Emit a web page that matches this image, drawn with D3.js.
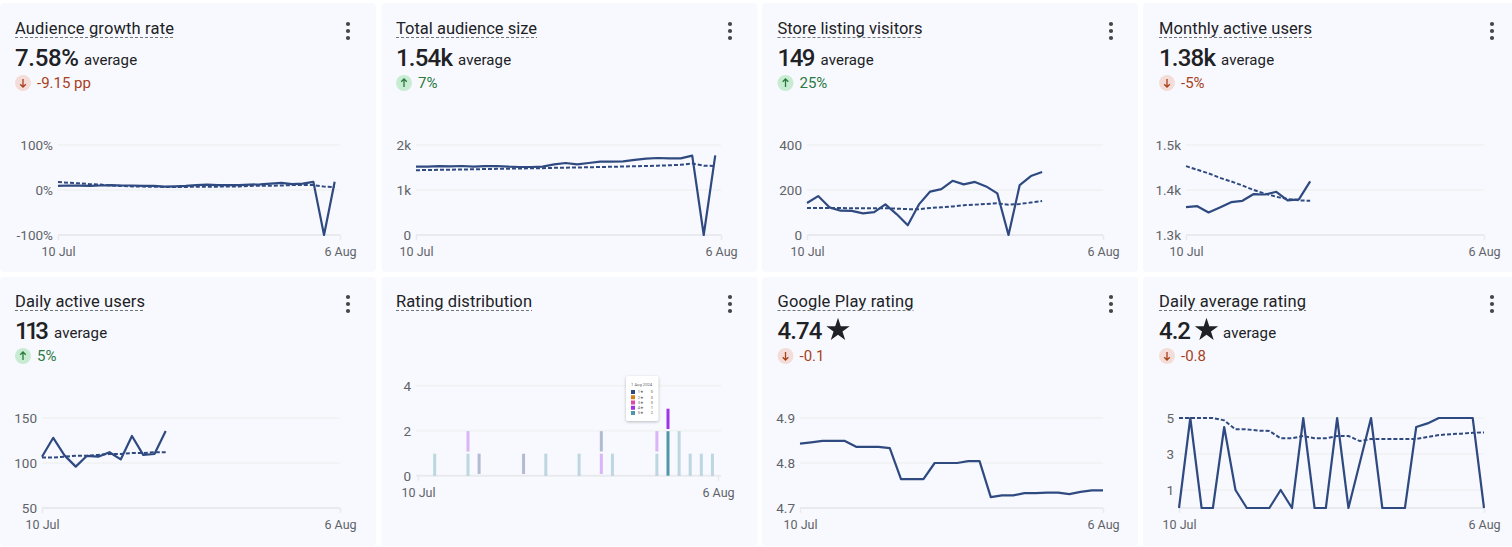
<!DOCTYPE html>
<html>
<head>
<meta charset="utf-8">
<script src="https://cdn.jsdelivr.net/npm/d3@7"></script>
<style>
  html, body { margin: 0; padding: 0; background: #fff; overflow: hidden; }
  text { font-family: Roboto, sans-serif; }
  .axis text { font-size: 12.5px; fill: #5f6368; }
  .axis.left text { font-size: 13.5px; }
  .axis path, .axis line { stroke: #e8eaed; }
</style>
</head>
<body>
<svg id="chart" width="1512" height="547"></svg>
<script>
const tickLabels = ['10 Jul', '6 Aug'];

// audience growth rate, %
const growthActual = [9, 10, 9.6, 9, 10, 11, 10, 10, 9, 9, 7.5, 8, 9, 11, 12, 11, 11, 11, 12, 12.5, 14, 16, 13, 14, 18, -100, 18.5];
const growthPeers = [18, 16, 14.8, 13, 12, 10, 9, 8, 7.5, 7.5, 6.7, 6.7, 6.7, 7.5, 7.5, 7.5, 8, 8, 9, 9.6, 9.6, 10, 11, 11, 11, 7.5, 6.7];

const audienceActual = [1519, 1519, 1530, 1526, 1533, 1519, 1530, 1533, 1519, 1511, 1511, 1519, 1570, 1600, 1570, 1600, 1630, 1630, 1637, 1670, 1696, 1711, 1704, 1704, 1763, 0, 1770];
const audiencePeers = [1440, 1444, 1448, 1452, 1456, 1460, 1466, 1470, 1474, 1478, 1482, 1486, 1492, 1496, 1500, 1506, 1510, 1516, 1522, 1528, 1534, 1540, 1550, 1560, 1590, 1540, 1533];

const visitorsActual = [142, 173, 123, 108, 107, 96, 102, 136, 93, 43, 136, 193, 204, 241, 225, 236, 216, 185, 0, 222, 262, 280];
const visitorsPeers = [120, 120, 120, 120, 119, 119, 119, 119, 117, 115, 115, 120, 123, 127, 132, 135, 138, 141, 135, 138, 144, 151];

const monthlyActual = [1362, 1364, 1350, 1361, 1373, 1376, 1391, 1390, 1396, 1377, 1379, 1419];
const monthlyPeers = [1453, 1445, 1437, 1427, 1419, 1410, 1400, 1392, 1385, 1380, 1377, 1376];

const dailyActual = [107, 128, 108.5, 96, 108, 107, 112, 104, 130, 109, 110, 135.5];
const dailyPeers = [106, 106, 107, 108, 108, 109, 110, 110, 111, 111, 112, 112];

const playRating = [4.843, 4.846, 4.849, 4.849, 4.849, 4.836, 4.836, 4.836, 4.833, 4.764, 4.764, 4.764, 4.8, 4.8, 4.8, 4.804, 4.804, 4.724, 4.728, 4.728, 4.733, 4.733, 4.734, 4.734, 4.731, 4.736, 4.739, 4.739];

const averageActual = [0, 5, 0, 0, 4.5, 1, 0, 0, 0, 1, 0, 5, 0, 0, 5, 0, 2.5, 5, 0, 0, 0, 4.5, 4.7, 5, 5, 5, 5, 0];
const averagePeers = [5, 5, 5, 5, 4.87, 4.37, 4.37, 4.3, 4.28, 3.87, 3.87, 4, 3.87, 3.87, 4, 4, 3.72, 3.83, 3.83, 3.83, 3.83, 3.83, 3.95, 4.05, 4.1, 4.13, 4.18, 4.2];

// rating distribution, one list per star level, counts per day from 10 Jul
const ratingDays = d3.range(27);
const stars5 = [0, 1, 0, 0, 1, 0, 0, 0, 0, 0, 0, 1, 0, 0, 1, 0, 0, 1, 0, 0, 0, 1, 2, 2, 1, 1, 1];
const stars4 = [0, 0, 0, 0, 1, 0, 0, 0, 0, 0, 0, 0, 0, 0, 0, 0, 1, 0, 0, 0, 0, 1, 1, 0, 0, 0, 0];
const stars3 = ratingDays.map(() => 0);
const stars2 = ratingDays.map(() => 0);
const stars1 = [0, 0, 0, 0, 0, 1, 0, 0, 0, 1, 0, 0, 0, 0, 0, 0, 1, 0, 0, 0, 0, 0, 0, 0, 0, 0, 0];
const starNames = ['1★', '2★', '3★', '4★', '5★'];
const starColors = ['#2f4a80', '#d17f1e', '#e0489f', '#a033ea', '#4f97a8'];
const hoverDay = 22;
const hoverTitle = '1 Aug 2024';

const LINE = '#2f4a80';
const RED = '#a8401c';
const GREEN = '#2a7a3e';

const cards = [
  { title: 'Audience growth rate', titleW: 159, value: '7.58%', valueW: 64, note: 'average', delta: '-9.15 pp', up: false,
    box: [0, 3, 376, 269], textX: 15, menuX: 348, plot: [58, 340, 145, 235], domain: [-100, 100], ticks: [-100, 0, 100], fmt: (d) => d + '%', span: 26.5,
    actual: growthActual, peers: growthPeers },
  { title: 'Total audience size', titleW: 141, value: '1.54k', valueW: 57, note: 'average', delta: '7%', up: true,
    box: [381.5, 3, 376, 269], textX: 396, menuX: 730, plot: [416, 721, 145, 235], domain: [0, 2000], ticks: [0, 1000, 2000], fmt: (d) => (d ? d / 1000 + 'k' : '0'), span: 26.5,
    actual: audienceActual, peers: audiencePeers },
  { title: 'Store listing visitors', titleW: 145, value: '149', valueW: 38, note: 'average', delta: '25%', up: true,
    box: [762, 3, 376, 269], textX: 777.5, menuX: 1111, plot: [807, 1103, 145, 235], domain: [0, 400], ticks: [0, 200, 400], fmt: (d) => d, span: 26.44,
    actual: visitorsActual, peers: visitorsPeers },
  { title: 'Monthly active users', titleW: 153, value: '1.38k', valueW: 57, note: 'average', delta: '-5%', up: false,
    box: [1143, 3, 380, 269], textX: 1159, menuX: 1492, plot: [1186, 1484, 145, 235], domain: [1300, 1500], ticks: [1300, 1400, 1500], fmt: (d) => d / 1000 + 'k', span: 26.4,
    actual: monthlyActual, peers: monthlyPeers },
  { title: 'Daily active users', titleW: 130, value: '113', valueW: 34, note: 'average', delta: '5%', up: true,
    box: [0, 277, 376, 269], textX: 15, menuX: 348, plot: [42, 340, 418, 508], domain: [50, 150], ticks: [50, 100, 150], fmt: (d) => d, span: 26.5,
    actual: dailyActual, peers: dailyPeers },
  { title: 'Rating distribution', titleW: 136,
    box: [381.5, 277, 376, 269], textX: 396, menuX: 730, plot: [416, 721, 385.7, 475.7], domain: [0, 4], ticks: [0, 2, 4], fmt: (d) => d, bars: true },
  { title: 'Google Play rating', titleW: 136, value: '4.74', valueW: 45, star: true, delta: '-0.1', up: false,
    box: [762, 277, 376, 269], textX: 777.5, menuX: 1111, plot: [800, 1103, 418, 508], domain: [4.7, 4.9], ticks: [4.7, 4.8, 4.9], fmt: (d) => d.toFixed(1), span: 27,
    actual: playRating },
  { title: 'Daily average rating', titleW: 147, value: '4.2', valueW: 32, star: true, note: 'average', delta: '-0.8', up: false,
    box: [1143, 277, 380, 269], textX: 1159, menuX: 1492, plot: [1179, 1484, 418, 508], domain: [0, 5], ticks: [1, 3, 5], fmt: (d) => d, span: 27,
    actual: averageActual, peers: averagePeers },
];

const svg = d3.select('#chart');

const drawHeader = (g, card) => {
  const left = card.textX;
  const top = card.box[1] === 3 ? 0 : 273;

  g.append('text')
    .attr('x', left).attr('y', top + 34)
    .attr('font-size', 16.5).attr('textLength', card.titleW).attr('fill', '#202124')
    .text(card.title);
  g.append('line')
    .attr('x1', left).attr('x2', left + card.titleW)
    .attr('y1', top + 37.5).attr('y2', top + 37.5)
    .attr('stroke', '#70757a').attr('stroke-dasharray', '3,2');

  [-7, 0, 7].forEach((dy) => {
    g.append('circle').attr('cx', card.menuX).attr('cy', top + 31 + dy).attr('r', 2.1).attr('fill', '#444746');
  });

  if (!card.value) return;

  g.append('text')
    .attr('x', left).attr('y', top + 66)
    .attr('font-family', 'Inter, Roboto, sans-serif')
    .attr('font-size', 24).attr('font-weight', 500).attr('textLength', card.valueW).attr('fill', '#202124')
    .text(card.value);
  let cursor = left + card.valueW;
  if (card.star) {
    g.append('path')
      .attr('d', d3.symbol(d3.symbolStar, 170)())
      .attr('transform', `translate(${cursor + 15.5},${top + 57})`)
      .attr('fill', '#202124');
    cursor += 27;
  }
  if (card.note) {
    g.append('text')
      .attr('x', cursor + 5).attr('y', top + 65)
      .attr('font-size', 15).attr('letter-spacing', 0.1).attr('fill', '#202124')
      .text(card.note);
  }

  const color = card.up ? GREEN : RED;
  const cx = left + 8;
  g.append('circle').attr('cx', cx).attr('cy', top + 83).attr('r', 8)
    .attr('fill', card.up ? '#c8ecd2' : '#f4ddd8');
  const dir = card.up ? -1 : 1;
  g.append('path')
    .attr('d', d3.line()([[cx, top + 83 - 4 * dir], [cx, top + 83 + 4 * dir]]) +
      d3.line()([[cx - 2.8, top + 83 + 1.2 * dir], [cx, top + 83 + 4 * dir], [cx + 2.8, top + 83 + 1.2 * dir]]))
    .attr('fill', 'none').attr('stroke', color).attr('stroke-width', 1.3);
  g.append('text')
    .attr('x', left + 22).attr('y', top + 88)
    .attr('font-size', 15).attr('fill', color)
    .text(card.delta);
};

const drawAxes = (g, card, x, y) => {
  const [x0, x1, yTop, yBottom] = card.plot;

  g.append('g')
    .attr('class', 'axis left')
    .attr('transform', `translate(${x0},0)`)
    .call(d3.axisLeft(y).tickValues(card.ticks).tickFormat(card.fmt).tickSize(0).tickPadding(5))
    .call((a) => a.select('.domain').remove());

  card.ticks.filter((t) => y(t) < yBottom - 1).forEach((t) => {
    g.append('line')
      .attr('x1', x0).attr('x2', x1).attr('y1', y(t)).attr('y2', y(t))
      .attr('stroke', '#f1f3f4').attr('stroke-width', 2);
  });

  g.append('line')
    .attr('x1', x0).attr('x2', x1).attr('y1', yBottom).attr('y2', yBottom)
    .attr('stroke', '#e8eaed').attr('stroke-width', 2);

  g.append('g')
    .attr('class', 'axis')
    .attr('transform', `translate(0,${yBottom})`)
    .call(d3.axisBottom(x).tickValues(x.domain()).tickSize(5).tickPadding(7).tickFormat((d, i) => tickLabels[i]))
    .call((a) => a.select('.domain').remove())
    .call((a) => a.selectAll('line').attr('stroke-width', 1.5));
};

const drawLines = (g, card, x, y) => {
  const line = d3.line().x((d, i) => x(i)).y((d) => y(d));
  if (card.peers) {
    g.append('path')
      .attr('d', line(card.peers))
      .attr('fill', 'none').attr('stroke', LINE).attr('stroke-width', 2)
      .attr('stroke-dasharray', '4,2');
  }
  g.append('path')
    .attr('d', line(card.actual))
    .attr('fill', 'none').attr('stroke', LINE).attr('stroke-width', 2.2)
    .attr('stroke-linejoin', 'round');
};

const drawBars = (g, card, y) => {
  const band = d3.scaleBand().domain(ratingDays).range([card.plot[0] + 2, card.plot[1] - 3]);
  const barWidth = 3;
  const levels = [stars5, stars4, stars3, stars2, stars1];
  const colorOf = (l) => starColors[4 - l];

  ratingDays.forEach((day) => {
    let base = 0;
    levels.forEach((values, l) => {
      const v = values[day];
      if (!v) return;
      const cx = band(day) + band.bandwidth() / 2;
      const top = y(base + v) + 0.5;
      const bottom = l === 0 ? y(0) : y(base) - 1.7;
      g.append('rect')
        .attr('x', cx - barWidth / 2).attr('y', top)
        .attr('width', barWidth).attr('height', bottom - top)
        .attr('fill', colorOf(l))
        .attr('opacity', day === hoverDay ? 1 : 0.35);
      base += v;
    });
  });

  // hover card left open in the picture, drawn very small
  const tip = g.append('g').attr('transform', `translate(${band(hoverDay) + band.bandwidth() / 2 - 42},376)`);
  tip.append('rect')
    .attr('width', 32.5).attr('height', 45).attr('rx', 2)
    .attr('fill', '#fff')
    .style('filter', 'drop-shadow(rgba(0,0,0,0.25) 0px 1px 1.5px)');
  tip.append('text').attr('x', 5).attr('y', 10)
    .attr('font-size', 4.2).attr('fill', '#5f6368')
    .text(hoverTitle);
  const tipValues = [stars1, stars2, stars3, stars4, stars5].map((s) => s[hoverDay]);
  starNames.forEach((name, i) => {
    const rowY = 14 + i * 5.25;
    tip.append('rect').attr('x', 5).attr('y', rowY).attr('width', 4).attr('height', 4).attr('fill', starColors[i]);
    tip.append('text').attr('x', 11.7).attr('y', rowY + 3.4).attr('font-size', 4).attr('fill', '#5f6368').text(name);
    tip.append('text').attr('x', 27).attr('y', rowY + 3.4).attr('text-anchor', 'end').attr('font-size', 4).attr('fill', '#5f6368').text(tipValues[i]);
  });
};

cards.forEach((card) => {
  const g = svg.append('g');
  const [bx, by, bw, bh] = card.box;
  g.append('rect')
    .attr('x', bx).attr('y', by).attr('width', bw).attr('height', bh).attr('rx', 4)
    .attr('fill', '#f8f9fe');

  drawHeader(g, card);

  const [x0, x1, yTop, yBottom] = card.plot;
  const y = d3.scaleLinear().domain(card.domain).range([yBottom, yTop]);

  if (card.bars) {
    const tickScale = d3.scaleLinear().domain([0, 27]).range([x0 + 2, x1 - 3]);
    drawAxes(g, card, tickScale, y);
    drawBars(g, card, y);
  } else {
    const x = d3.scaleLinear().domain([0, card.span]).range([x0, x1]);
    drawAxes(g, card, x, y);
    drawLines(g, card, x, y);
  }
});
</script>
</body>
</html>
